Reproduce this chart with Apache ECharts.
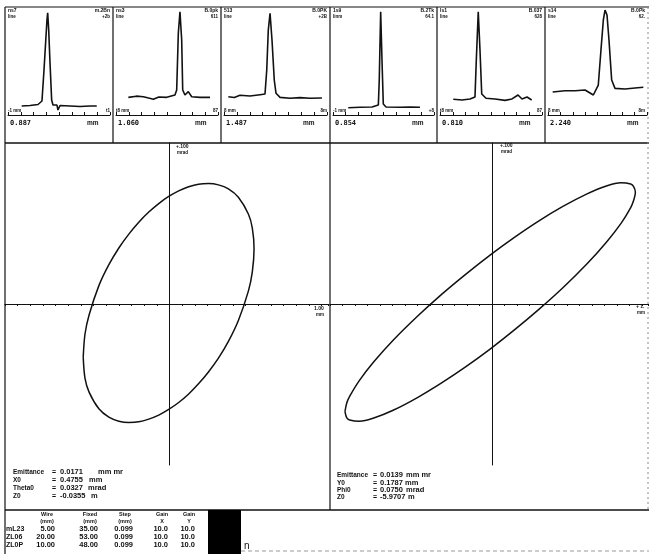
<!DOCTYPE html>
<html><head><meta charset="utf-8">
<script src="https://cdn.jsdelivr.net/npm/echarts@6/dist/echarts.min.js"></script>
<style>html,body{margin:0;padding:0;background:#fff}#c{width:649px;height:554px}</style>
</head><body><div id="c"></div>
<script>
// ---------- data ----------
const profileWidths = ['0.887','1.060','1.487','0.854','0.810','2.240'];
const profileTags = ['ns7','ns3','513','1s9','ls1','s14'];
const profileSub = ['line','line','line','linm','line','line'];
const profilePeak = ['m.2Bn','B.0pk','B.0PK','B.2Tk','B.037','B.0Pk'];
const profileGain = ['+2b','611','+2B','64.1','628','62.'];
const profileLeftTick = ['-1 mm','t8 mm','8 mm','-1 mm','t8 mm','8 mm'];
const profileRightTick = ['t1','87','8m','+8','87','8m'];

const profile1 = [[13.4,8.4],[21.6,8.9],[29.4,9.8],[33.3,13.1],[35.3,42],[38.2,88.8],[38.9,95.6],[39.9,79.4],[41.2,48.6],[42.8,14],[44.1,9.3],[48,9.3],[49,4.7],[51,8.9],[60.8,8.4],[70.6,7.9],[80.4,8.4],[87,8.4]];
const profile2 = [[12.1,16.5],[20,17.6],[26.8,17.1],[32,15.8],[36.6,14.7],[42,16.8],[49.7,16.5],[57.8,18.7],[59.5,23.4],[61.1,76.4],[62.7,96.5],[64.4,70.1],[65.4,23.4],[67.6,18.7],[70.9,21.8],[74.2,17.1],[82.4,16.5],[92.2,16.5]];
const profile3 = [[4.2,17.1],[10,16.4],[15.5,18.4],[25.2,17.8],[35,19],[39.8,19.6],[41.5,42],[43,79.4],[44.7,95],[46.6,70.1],[48.8,32.7],[50.5,20.3],[54.4,16.5],[64.1,15.6],[73.8,16.2],[83.5,15.6],[95.1,15.9]];
const profile4 = [[15.1,6.8],[26.7,7.2],[38.6,7.5],[44.9,9.3],[45.8,32.7],[47.2,96.5],[48.5,51.4],[49.8,10.3],[52.5,7.5],[66.3,7.2],[76.2,7.5],[86.1,7.2]];
const profile5 = [[13,14.7],[21.6,14],[29.4,15],[34.3,16.8],[35.6,51.4],[37.5,96.5],[39.2,60.7],[40.9,19.6],[45.1,15.6],[53.9,15],[63.7,13.7],[70.6,15],[76.5,18.7],[80.4,15],[85.3,16.8],[89.9,14]];
const profile6 = [[4.7,21.5],[17.2,22.7],[27.3,22.7],[37.4,23.4],[45.8,18.7],[50.8,28],[53.5,60.7],[55.9,88.8],[57.6,98.1],[59.6,93.5],[61.6,70.1],[64.3,32.7],[67.7,24.9],[77.8,24.3],[87.9,25.2],[96.3,25.9]];
const profiles = [profile1, profile2, profile3, profile4, profile5, profile6];

// phase-space ellipses (x in mm, angle in mrad)
const ellipseX = [[-0.546,-0.0330],[-0.535,-0.0188],[-0.509,-0.0068],[-0.447,0.0114],[-0.384,0.0244],[-0.321,0.0348],[-0.258,0.0434],[-0.195,0.0508],[-0.132,0.0571],[-0.069,0.0624],[-0.006,0.0668],[0.057,0.0703],[0.120,0.0728],[0.182,0.0744],[0.245,0.0748],[0.308,0.0740],[0.371,0.0715],[0.434,0.0663],[0.497,0.0559],[0.522,0.0472],[0.533,0.0343],[0.522,0.0200],[0.497,0.0080],[0.434,-0.0102],[0.371,-0.0232],[0.308,-0.0336],[0.245,-0.0422],[0.182,-0.0496],[0.120,-0.0559],[0.057,-0.0612],[-0.006,-0.0655],[-0.069,-0.0690],[-0.132,-0.0715],[-0.195,-0.0732],[-0.258,-0.0736],[-0.321,-0.0728],[-0.384,-0.0703],[-0.447,-0.0651],[-0.509,-0.0547],[-0.535,-0.0460],[-0.546,-0.0330]];
const ellipseY = [[-0.944,-0.0669],[-0.933,-0.0616],[-0.914,-0.0574],[-0.852,-0.0476],[-0.759,-0.0359],[-0.635,-0.0225],[-0.479,-0.0076],[-0.324,0.0060],[-0.168,0.0186],[-0.013,0.0304],[0.143,0.0414],[0.298,0.0515],[0.454,0.0606],[0.609,0.0684],[0.733,0.0733],[0.827,0.0753],[0.889,0.0745],[0.907,0.0730],[0.919,0.0694],[0.907,0.0641],[0.889,0.0599],[0.827,0.0501],[0.733,0.0384],[0.609,0.0250],[0.454,0.0101],[0.298,-0.0035],[0.143,-0.0161],[-0.013,-0.0280],[-0.168,-0.0389],[-0.324,-0.0490],[-0.479,-0.0581],[-0.635,-0.0660],[-0.759,-0.0708],[-0.852,-0.0728],[-0.914,-0.0720],[-0.933,-0.0706],[-0.944,-0.0669]];

const resultLabelsX = ['Emittance','X0','Theta0','Z0'];
const resultValuesX = ['0.0171','0.4755','0.0327','-0.0355'];
const resultUnitsX = ['mm mr','mm','mrad','m'];
const resultLabelsY = ['Emittance','Y0','Phi0','Z0'];
const resultValuesY = ['0.0139','0.1787','0.0750','-5.9707'];
const resultUnitsY = ['mm mr','mm','mrad','m'];

const tableHead1 = ['Wire','Fixed','Step','Gain','Gain'];
const tableHead2 = ['(mm)','(mm)','(mm)','X','Y'];
const tableNames = ['mL23','ZL06','ZL0P'];
const tableWire = ['5.00','20.00','10.00'];
const tableFixed = ['35.00','53.00','48.00'];
const tableStep = ['0.099','0.099','0.099'];
const tableGainX = ['10.0','10.0','10.0'];
const tableGainY = ['10.0','10.0','10.0'];

// ---------- layout ----------
const panelEdges = [5,113,221,330,437,545,650];
const INK = '#111';
const FONT = 'Liberation Sans';
const chart = echarts.init(document.getElementById('c'), null, {renderer:'canvas'});

const grids = [], xAxes = [], yAxes = [], series = [], graphic = [];
function txt(x, y, s, size, align, weight, fam) {
  graphic.push({type:'text', x:x, y:y, silent:true, style:{text:s, fill:INK,
    font:(weight||'bold')+' '+size+'px "'+(fam||FONT)+'"', textAlign:align||'left', textVerticalAlign:'middle',
    align:align||'left', verticalAlign:'middle'}});
}
function line(x1,y1,x2,y2,w,c,dash){
  graphic.push({type:'line', silent:true, shape:{x1:x1,y1:y1,x2:x2,y2:y2}, style:{stroke:c||INK, lineWidth:w||1, lineDash:dash||null}});
}

for (let i = 0; i < 6; i++) {
  const L = panelEdges[i], R = panelEdges[i+1], W = R - L;
  grids.push({left:L+3, top:8, width:W-6, height:107});
  xAxes.push({gridIndex:i, type:'value', min:0, max:100, interval:12.5,
    axisLine:{show:true, lineStyle:{color:INK, width:1}}, axisTick:{show:true, inside:true, length:3, lineStyle:{color:INK}},
    axisLabel:{show:false}, splitLine:{show:false}});
  yAxes.push({gridIndex:i, type:'value', min:0, max:100, show:false});
  series.push({type:'line', xAxisIndex:i, yAxisIndex:i, data:profiles[i], showSymbol:false, silent:true,
    lineStyle:{color:INK, width:1.6}});
  txt(L+3, 11, profileTags[i], 5);
  txt(L+3, 17, profileSub[i], 4.5);
  txt(Math.min(R,648)-3, 11, profilePeak[i], 5, 'right');
  txt(Math.min(R,648)-3, 17, profileGain[i], 4.5, 'right');
  txt(L+3, 111, profileLeftTick[i], 4.5);
  txt(Math.min(R,648)-3, 111, profileRightTick[i], 4.5, 'right');
  txt(L+5, 123, profileWidths[i], 7, 'left', 'bold', 'DejaVu Sans Mono');
  txt(L+82, 123, 'mm', 6.5, 'left', 'bold');
}

// big phase-space panels
const bigGrids = [{left:5, width:323}, {left:330, width:318}];
const ellipses = [ellipseX, ellipseY];
for (let k = 0; k < 2; k++) {
  const gi = 6 + k;
  grids.push({left:bigGrids[k].left, top:143, width:bigGrids[k].width, height:322});
  xAxes.push({gridIndex:gi, type:'value', min:-1.04, max:1.0, interval:0.08,
    axisLine:{show:true, onZero:true, lineStyle:{color:INK, width:1}},
    axisTick:{show:true, length:2, lineStyle:{color:INK}}, axisLabel:{show:false}, splitLine:{show:false}});
  yAxes.push({gridIndex:gi, type:'value', min:-0.1, max:0.1,
    axisLine:{show:true, onZero:true, lineStyle:{color:INK, width:1}},
    axisTick:{show:false}, axisLabel:{show:false}, splitLine:{show:false}});
  series.push({type:'line', xAxisIndex:gi, yAxisIndex:gi, data:ellipses[k], showSymbol:false, silent:true,
    smooth:0.3, lineStyle:{color:INK, width:1.5}});
}
txt(176, 147, '+.100', 5); txt(177, 153, 'mrad', 4.5);
txt(314, 309, '1.00', 5); txt(316, 315, 'mm', 4.5);
txt(500, 146, '+.100', 5); txt(501, 152, 'mrad', 4.5);
txt(636, 307, '+ 1.', 5); txt(637, 313, 'mm', 4.5);

// frame lines
line(5, 7, 649, 7, 1.2);
line(5, 143, 649, 143, 1.6);
for (let i = 1; i < 6; i++) line(panelEdges[i], 7, panelEdges[i], 143, 1.2);
line(5, 7, 5, 554, 1.2);
line(330, 143, 330, 510, 1.2);
line(648, 7, 648, 510, 1, '#888', [2,3]);
line(5, 510, 649, 510, 1.4);
line(241, 551, 649, 551, 1, '#999', [4,3]);
graphic.push({type:'rect', silent:true, shape:{x:208, y:510, width:33, height:44}, style:{fill:'#000'}});

// result text
const rowY1 = [472, 480, 488, 496];
const rowY2 = [475, 483, 490, 497];
const unitX1 = [98, 89, 88, 91];
const unitX2 = [406, 405, 406, 408];
for (let r = 0; r < 4; r++) {
  txt(13, rowY1[r], resultLabelsX[r], 6.5);
  txt(52, rowY1[r], '=', 7);
  txt(60, rowY1[r], resultValuesX[r], 7.5);
  txt(unitX1[r], rowY1[r], resultUnitsX[r], 7.5);
  txt(337, rowY2[r], resultLabelsY[r], 6.5);
  txt(373, rowY2[r], '=', 7);
  txt(380, rowY2[r], resultValuesY[r], 7.5);
  txt(unitX2[r], rowY2[r], resultUnitsY[r], 7.5);
}

// table
const headX = [47, 90, 125, 162, 189];
for (let c = 0; c < 5; c++) {
  txt(headX[c], 514, tableHead1[c], 5.5, 'center');
  txt(headX[c], 521, tableHead2[c], 5.5, 'center');
}
const colRight = [55, 98, 133, 168, 195];
const cols = [tableWire, tableFixed, tableStep, tableGainX, tableGainY];
const rowYs = [529, 537, 545];
for (let r = 0; r < 3; r++) {
  txt(6, rowYs[r], tableNames[r], 7);
  for (let c = 0; c < 5; c++) txt(colRight[c], rowYs[r], cols[c][r], 7.5, 'right');
}
txt(244, 546, 'n', 10, 'left', 'normal');

chart.setOption({animation:false, backgroundColor:'#fff', grid:grids, xAxis:xAxes, yAxis:yAxes, series:series, graphic:graphic});
</script></body></html>
